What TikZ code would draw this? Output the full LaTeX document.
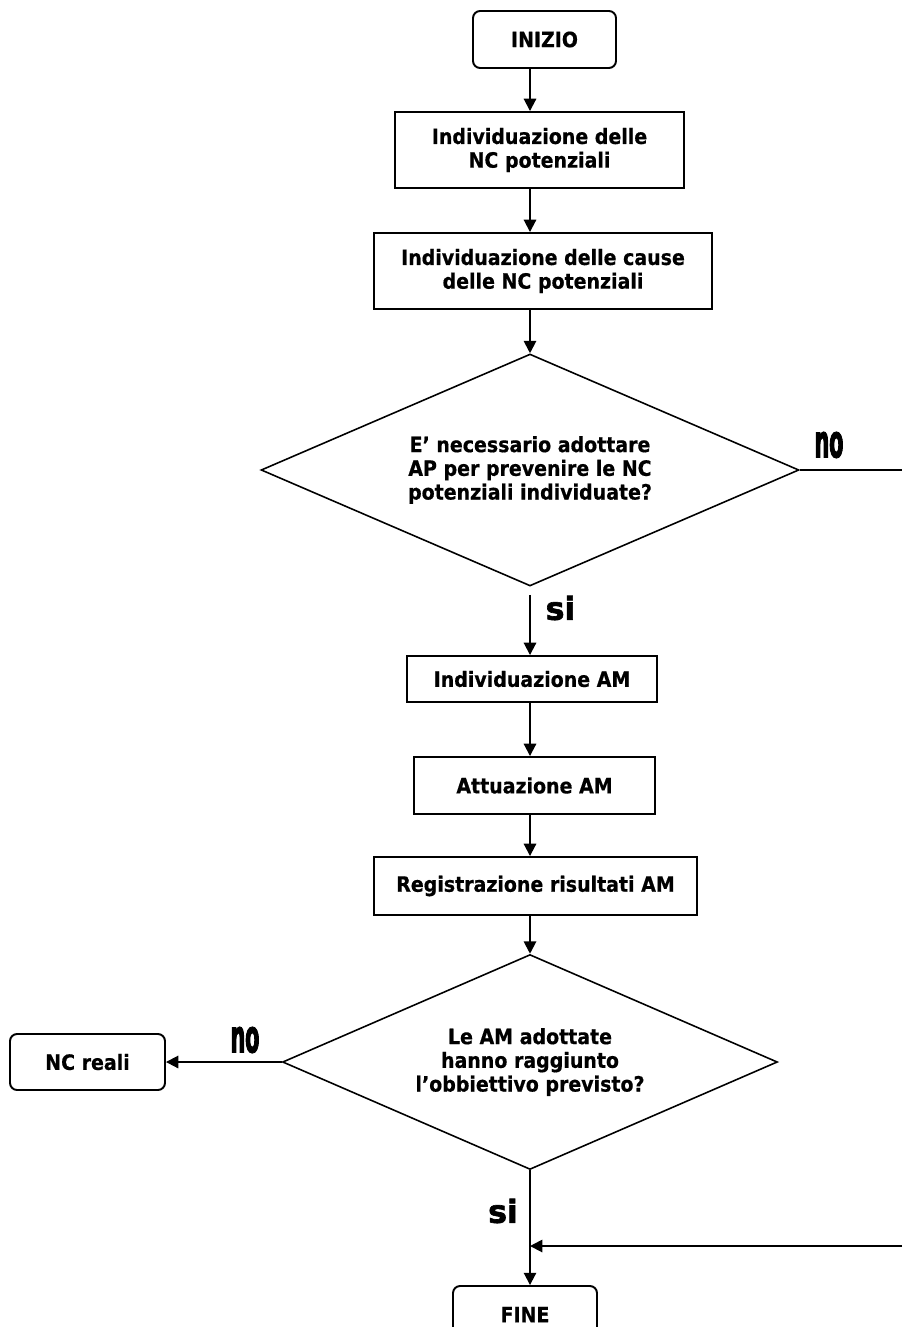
\documentclass[tikz,border=0pt]{standalone}
\usepackage{fontspec}
\setmainfont{DejaVu Sans}[FakeStretch=0.9, BoldFeatures={FakeBold=0.6}]
\newfontfamily\nofont{DejaVu Sans}[FakeStretch=0.45, BoldFeatures={FakeBold=2}]
\newfontfamily\sifont{DejaVu Sans}[BoldFeatures={FakeBold=2}]
\usetikzlibrary{shapes.geometric,arrows.meta}

\tikzset{
  every node/.style={font=\fontsize{12}{13.5}\selectfont\bfseries, align=center, inner sep=1pt},
  stepbox/.style={draw, line width=1.1pt, rectangle},
  endbox/.style={draw, line width=1.1pt, rectangle, rounded corners=4pt},
  choice/.style={draw, line width=0.9pt, shape=diamond, aspect=2.3, inner sep=0pt},
  arr/.style={line width=1.1pt, -{Triangle[length=7pt,width=7pt]}},
  plain/.style={line width=1.1pt},
  nolab/.style={font=\fontsize{26}{26}\selectfont\nofont\bfseries},
  silab/.style={font=\fontsize{18}{18}\selectfont\sifont\bfseries},
}

\begin{document}
\begin{tikzpicture}[x=0.02cm, y=-0.02cm]
  \useasboundingbox (0,0) rectangle (902,1327);
  \clip (0,0) rectangle (902,1327);

  % main column
  \coordinate (axis) at (530,0);
  \node[endbox, minimum width=2.86cm, minimum height=1.14cm] (start) at (544.5,39.5) {INIZIO};
  \node[stepbox, minimum width=5.78cm, minimum height=1.52cm] (b1) at (539.5,150) {Individuazione delle\\NC potenziali};
  \node[stepbox, minimum width=6.76cm, minimum height=1.52cm] (b2) at (543,271) {Individuazione delle cause\\delle NC potenziali};
  \node[choice, minimum width=10.76cm, minimum height=4.64cm] (d1) at (530,470) {E’ necessario adottare\\AP per prevenire le NC\\potenziali individuate?};
  \node[stepbox, minimum width=5.0cm, minimum height=0.92cm] (b3) at (532,679) {Individuazione AM};
  \node[stepbox, minimum width=4.82cm, minimum height=1.14cm] (b4) at (534.5,785.5) {Attuazione AM};
  \node[stepbox, minimum width=6.46cm, minimum height=1.16cm] (b5) at (535.5,886) {Registrazione risultati AM};
  \node[choice, minimum width=9.9cm, minimum height=4.3cm] (d2) at (530,1062) {Le AM adottate\\hanno raggiunto\\l’obbiettivo previsto?};
  \node[endbox, minimum width=3.1cm, minimum height=1.12cm] (nc) at (87.5,1062) {NC reali};
  \node[endbox, minimum width=2.88cm, minimum height=1.14cm] (fine) at (525,1314.5) {FINE};

  % free ends at the right edge
  \coordinate (outA) at (902,470);
  \coordinate (inB) at (902,1246);
  \coordinate (s1) at ([yshift=-0.16cm]d1.south);

  % connectors
  \draw[arr] (start.south -| axis) -- (b1.north -| axis);
  \draw[arr] (b1.south -| axis) -- (b2.north -| axis);
  \draw[arr] (b2.south -| axis) -- (d1.north);
  \draw[arr] (s1) -- (b3.north -| axis);
  \draw[arr] (b3.south -| axis) -- (b4.north -| axis);
  \draw[arr] (b4.south -| axis) -- (b5.north -| axis);
  \draw[arr] (b5.south -| axis) -- (d2.north);
  \draw[arr] (d2.south) -- (fine.north -| axis);
  \draw[arr] (d2.west) -- (nc.east);
  \draw[plain] (d1.east) -- (outA);
  \draw[arr] (inB) -- (inB -| axis);

  % branch labels
  \node[nolab] (no1) at (829,445) {no};
  \node[nolab] (no2) at (245,1040) {no};
  \node[silab] (si1) at (560.5,608) {si};
  \node[silab] (si2) at (503,1211) {si};
\end{tikzpicture}
\end{document}
